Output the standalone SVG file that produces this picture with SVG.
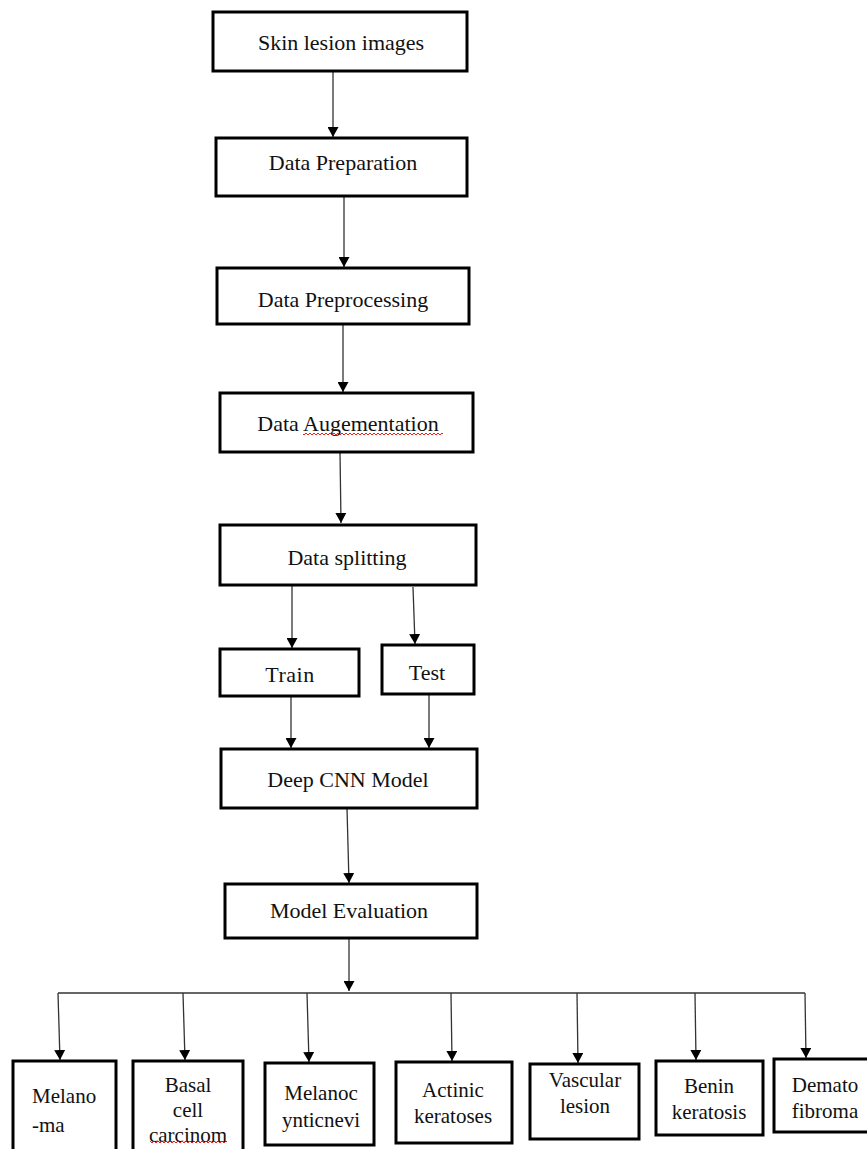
<svg xmlns="http://www.w3.org/2000/svg" width="867" height="1149" viewBox="0 0 867 1149">
<style>
.box{fill:#fff;stroke:#000;stroke-width:3}
.t{font-family:"Liberation Serif","Times New Roman",serif;font-size:22px;fill:#111;text-anchor:middle}
.s{font-family:"Liberation Serif","Times New Roman",serif;font-size:21px;fill:#111;text-anchor:middle}
.c{fill:none;stroke:#333;stroke-width:1.3}
</style>
<defs>
<marker id="ah" markerUnits="userSpaceOnUse" markerWidth="11" markerHeight="11" refX="10" refY="5.5" orient="auto">
<path d="M0,0 L10,5.5 L0,11 z" fill="#000"/>
</marker>
<pattern id="sq" width="4" height="4" patternUnits="userSpaceOnUse">
<path d="M0,3 L2,1 L4,3" fill="none" stroke="#e00" stroke-width="0.9"/>
</pattern>
</defs>
<rect width="867" height="1149" fill="#fff"/>

<g id="connectors">
<line class="c" x1="333" y1="71" x2="333" y2="137" marker-end="url(#ah)"/>
<line class="c" x1="344" y1="196" x2="344" y2="267" marker-end="url(#ah)"/>
<line class="c" x1="343" y1="324" x2="343" y2="392" marker-end="url(#ah)"/>
<line class="c" x1="340" y1="452" x2="341" y2="523" marker-end="url(#ah)"/>
<line class="c" x1="292" y1="583" x2="292" y2="648" marker-end="url(#ah)"/>
<line class="c" x1="413" y1="587" x2="415" y2="644" marker-end="url(#ah)"/>
<line class="c" x1="291" y1="696" x2="291" y2="748" marker-end="url(#ah)"/>
<line class="c" x1="429" y1="694" x2="429" y2="748" marker-end="url(#ah)"/>
<line class="c" x1="347" y1="808" x2="349" y2="883" marker-end="url(#ah)"/>
<line class="c" x1="349" y1="938" x2="349" y2="991" marker-end="url(#ah)"/>
<line class="c" x1="58" y1="993" x2="805" y2="993"/>
<line class="c" x1="58" y1="993" x2="60" y2="1060" marker-end="url(#ah)"/>
<line class="c" x1="183" y1="993" x2="185" y2="1060" marker-end="url(#ah)"/>
<line class="c" x1="307" y1="993" x2="309" y2="1062" marker-end="url(#ah)"/>
<line class="c" x1="451" y1="993" x2="452" y2="1061" marker-end="url(#ah)"/>
<line class="c" x1="577" y1="993" x2="578" y2="1063" marker-end="url(#ah)"/>
<line class="c" x1="695" y1="993" x2="696" y2="1060" marker-end="url(#ah)"/>
<line class="c" x1="805" y1="993" x2="806" y2="1058" marker-end="url(#ah)"/>
</g>

<g id="n-skin"><rect class="box" x="213" y="12" width="254" height="59"/><text class="t" x="341" y="50">Skin lesion images</text></g>
<g id="n-prep"><rect class="box" x="216" y="138" width="251" height="58"/><text class="t" x="343" y="170">Data Preparation</text></g>
<g id="n-preproc"><rect class="box" x="217" y="268" width="252" height="56"/><text class="t" x="343" y="307">Data Preprocessing</text></g>
<g id="n-aug"><rect class="box" x="220" y="393" width="253" height="59"/><text class="t" x="348" y="431">Data Augementation</text><rect x="303" y="432" width="140" height="4" fill="url(#sq)"/></g>
<g id="n-split"><rect class="box" x="220" y="525" width="256" height="60"/><text class="t" x="347" y="565">Data splitting</text></g>
<g id="n-train"><rect class="box" x="220" y="649" width="139" height="47"/><text class="t" x="290" y="682" letter-spacing="0.5">Train</text></g>
<g id="n-test"><rect class="box" x="382" y="645" width="92" height="49"/><text class="t" x="427" y="680">Test</text></g>
<g id="n-cnn"><rect class="box" x="221" y="749" width="256" height="59"/><text class="t" x="348" y="787">Deep CNN Model</text></g>
<g id="n-eval"><rect class="box" x="225" y="884" width="252" height="54"/><text class="t" x="349" y="918">Model Evaluation</text></g>

<g id="n-mel"><rect class="box" x="13" y="1061" width="103" height="100"/><text class="s" x="32" y="1103" style="text-anchor:start">Melano</text><text class="s" x="32" y="1132" style="text-anchor:start">-ma</text></g>
<g id="n-bcc"><rect class="box" x="133" y="1061" width="110" height="100"/><text class="s" x="188" y="1092">Basal</text><text class="s" x="188" y="1117">cell</text><text class="s" x="188" y="1142">carcinom</text><rect x="150" y="1140" width="77" height="4" fill="url(#sq)"/></g>
<g id="n-nevi"><rect class="box" x="265" y="1063" width="109" height="82"/><text class="s" x="321" y="1100">Melanoc</text><text class="s" x="321" y="1127">ynticnevi</text></g>
<g id="n-ak"><rect class="box" x="396" y="1062" width="116" height="81"/><text class="s" x="453" y="1097">Actinic</text><text class="s" x="453" y="1123">keratoses</text></g>
<g id="n-vasc"><rect class="box" x="530" y="1064" width="109" height="75"/><text class="s" x="585" y="1087">Vascular</text><text class="s" x="585" y="1113">lesion</text></g>
<g id="n-bk"><rect class="box" x="656" y="1061" width="107" height="74"/><text class="s" x="709" y="1093">Benin</text><text class="s" x="709" y="1119">keratosis</text></g>
<g id="n-df"><rect class="box" x="774" y="1059" width="100" height="73"/><text class="s" x="825" y="1092">Demato</text><text class="s" x="825" y="1118">fibroma</text></g>
</svg>
